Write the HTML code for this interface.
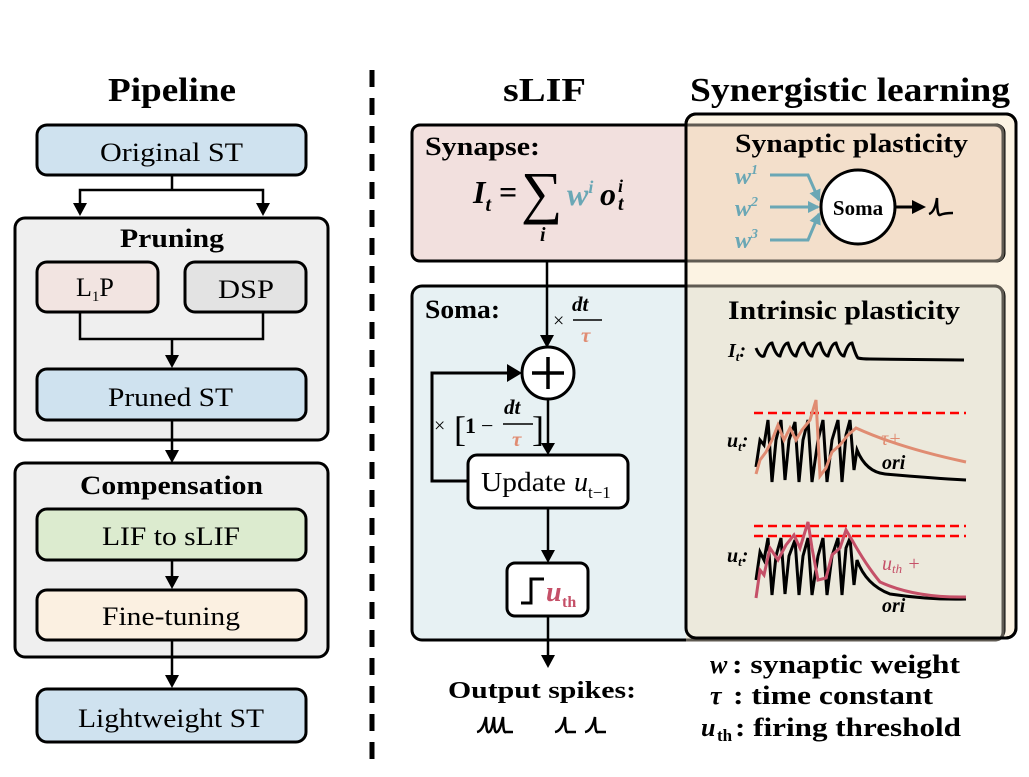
<!DOCTYPE html>
<html><head><meta charset="utf-8"><style>
body{margin:0;background:#fff}
svg{display:block}
text{font-family:"Liberation Serif",serif}
</style></head><body>
<svg width="1029" height="777" viewBox="0 0 1029 777" xmlns="http://www.w3.org/2000/svg">
<defs>
<marker id="ab" markerWidth="12" markerHeight="12" refX="10" refY="6" orient="auto" markerUnits="userSpaceOnUse"><path d="M0,0 L12,6 L0,12 z" fill="#6aa7b5"/></marker>
</defs>
<!-- Left pipeline -->
<text x="108" y="101" font-size="34" font-weight="bold" textLength="128" lengthAdjust="spacingAndGlyphs">Pipeline</text>
<rect x="37" y="125" width="269" height="50" rx="10" fill="#cfe2ef" stroke="#000" stroke-width="3"/>
<text x="100" y="161" font-size="26" textLength="143" lengthAdjust="spacingAndGlyphs">Original ST</text>
<path d="M172 175 V190 H80 V210 M172 190 H263 V210" fill="none" stroke="#000" stroke-width="2.5"/>
<path d="M73 203 L80 216 L87 203z M256 203 L263 216 L270 203z" fill="#000"/>
<rect x="15" y="218" width="313" height="222" rx="10" fill="#efefef" stroke="#000" stroke-width="3"/>
<text x="120" y="247" font-size="26" font-weight="bold" textLength="104" lengthAdjust="spacingAndGlyphs">Pruning</text>
<rect x="37" y="262" width="121" height="50" rx="10" fill="#f2e4e1" stroke="#000" stroke-width="3"/>
<text x="76" y="296" font-size="26">L<tspan font-size="15" dy="5">1</tspan><tspan dy="-5">P</tspan></text>
<rect x="185" y="262" width="121" height="50" rx="10" fill="#e3e3e3" stroke="#000" stroke-width="3"/>
<text x="218" y="298" font-size="26" textLength="56" lengthAdjust="spacingAndGlyphs">DSP</text>
<path d="M80 312 V339 H263 V312 M172 339 V360" fill="none" stroke="#000" stroke-width="2.5"/>
<path d="M165 355 L172 368 L179 355z" fill="#000"/>
<rect x="37" y="369" width="269" height="51" rx="10" fill="#cfe2ef" stroke="#000" stroke-width="3"/>
<text x="108" y="406" font-size="26" textLength="125" lengthAdjust="spacingAndGlyphs">Pruned ST</text>
<path d="M172 420 V455" stroke="#000" stroke-width="2.5"/>
<path d="M165 450 L172 463 L179 450z" fill="#000"/>
<rect x="15" y="463" width="313" height="194" rx="10" fill="#efefef" stroke="#000" stroke-width="3"/>
<text x="80" y="494" font-size="26" font-weight="bold" textLength="183" lengthAdjust="spacingAndGlyphs">Compensation</text>
<rect x="37" y="509" width="269" height="51" rx="10" fill="#dcebcf" stroke="#000" stroke-width="3"/>
<text x="102" y="545" font-size="26" textLength="138" lengthAdjust="spacingAndGlyphs">LIF to sLIF</text>
<path d="M172 560 V582" stroke="#000" stroke-width="2.5"/>
<path d="M165 576 L172 589 L179 576z" fill="#000"/>
<rect x="37" y="590" width="269" height="50" rx="10" fill="#fbf0e1" stroke="#000" stroke-width="3"/>
<text x="102" y="625" font-size="26" textLength="138" lengthAdjust="spacingAndGlyphs">Fine-tuning</text>
<path d="M172 640 V680" stroke="#000" stroke-width="2.5"/>
<path d="M165 675 L172 688 L179 675z" fill="#000"/>
<rect x="37" y="689" width="269" height="53" rx="10" fill="#cfe2ef" stroke="#000" stroke-width="3"/>
<text x="78" y="727" font-size="26" textLength="186" lengthAdjust="spacingAndGlyphs">Lightweight ST</text>
<line x1="372" y1="70" x2="372" y2="760" stroke="#000" stroke-width="5" stroke-dasharray="17,11"/>

<!-- Right titles -->
<text x="503" y="101" font-size="34" font-weight="bold" textLength="83" lengthAdjust="spacingAndGlyphs">sLIF</text>
<text x="690" y="101" font-size="34" font-weight="bold" textLength="320" lengthAdjust="spacingAndGlyphs">Synergistic learning</text>

<!-- Boxes -->
<rect x="686" y="114" width="330" height="524" rx="10" fill="#fcf3e3" stroke="#000" stroke-width="3"/>
<rect x="412" y="125" width="592" height="136" rx="8" fill="#f2e0de" stroke="#000" stroke-width="3"/>
<rect x="412" y="286" width="592" height="354" rx="10" fill="#e7f1f3" stroke="#000" stroke-width="3"/>
<rect x="686" y="126.5" width="316.5" height="133" fill="#f3dfcb"/>
<rect x="686" y="287.5" width="316.5" height="351" fill="#ece9dc"/>
<path d="M686 125 H994 Q1003 125 1003 134 V252 Q1003 261 994 261 H686" fill="none" stroke="#5f5a52" stroke-width="3"/>
<path d="M686 286 H994 Q1003 286 1003 296 V632 Q1003 640 994 640 H686" fill="none" stroke="#5f5a52" stroke-width="3"/>
<rect x="686" y="114" width="330" height="524" rx="10" fill="none" stroke="#000" stroke-width="3"/>

<!-- Synapse -->
<text x="425" y="155" font-size="26" font-weight="bold" textLength="115" lengthAdjust="spacingAndGlyphs">Synapse:</text>
<text x="473" y="203" font-size="32" font-weight="bold" font-style="italic">I<tspan font-size="20" dy="8">t</tspan><tspan dy="-8" font-style="normal"> =</tspan></text>
<text x="521" y="212" font-size="58">∑</text>
<text x="540" y="241" font-size="20" font-weight="bold" font-style="italic">i</text>
<text x="567" y="205" font-size="32" font-weight="bold" font-style="italic" fill="#6aa7b5">w<tspan font-size="18" dy="-12">i</tspan></text>
<text x="600" y="205" font-size="32" font-weight="bold" font-style="italic">o</text>
<text x="618" y="192" font-size="18" font-weight="bold" font-style="italic">i</text>
<text x="618" y="210" font-size="20" font-weight="bold" font-style="italic">t</text>

<!-- Synaptic plasticity -->
<text x="735" y="152" font-size="26" font-weight="bold" textLength="233" lengthAdjust="spacingAndGlyphs">Synaptic plasticity</text>
<g font-size="24" font-style="italic" fill="#6aa7b5" font-weight="bold">
<text x="735" y="184">w<tspan font-size="14" dy="-10">1</tspan></text>
<text x="735" y="216">w<tspan font-size="14" dy="-10">2</tspan></text>
<text x="735" y="248">w<tspan font-size="14" dy="-10">3</tspan></text>
</g>
<g fill="none" stroke="#6aa7b5" stroke-width="3">
<path d="M770 175 H808 L819 200" marker-end="url(#ab)"/>
<path d="M770 207 H818" marker-end="url(#ab)"/>
<path d="M770 240 H808 L819 214" marker-end="url(#ab)"/>
</g>
<circle cx="858" cy="207" r="37" fill="#fff" stroke="#000" stroke-width="3"/>
<text x="858" y="215" font-size="21" font-weight="bold" text-anchor="middle">Soma</text>
<path d="M895 207 H916" stroke="#000" stroke-width="3"/>
<path d="M912 200 L926 207 L912 214z" fill="#000"/>
<path d="M929 214 Q935 212 937 198 Q937 216 940 215 Q944 213 953 213" fill="none" stroke="#000" stroke-width="2.5"/>

<!-- Soma sLIF -->
<text x="425" y="318" font-size="26" font-weight="bold" textLength="75" lengthAdjust="spacingAndGlyphs">Soma:</text>
<path d="M547 262 V340" stroke="#000" stroke-width="2.5"/>
<path d="M540 335 L547 348 L554 335z" fill="#000"/>
<text x="553" y="327" font-size="20">×</text>
<text x="572" y="311" font-size="21" font-weight="bold" font-style="italic">dt</text>
<line x1="573" y1="320" x2="602" y2="320" stroke="#000" stroke-width="1.5"/>
<text x="581" y="342" font-size="21" font-weight="bold" font-style="italic" fill="#e08c72">τ</text>
<circle cx="548" cy="373" r="26" fill="#fff" stroke="#000" stroke-width="3"/>
<path d="M532 373 H564 M548 357 V389" stroke="#000" stroke-width="3.5"/>
<path d="M469 481 H432 V373 H512" fill="none" stroke="#000" stroke-width="3"/>
<path d="M507 364 L522 373 L507 382z" fill="#000"/>
<text x="434" y="432" font-size="20">×</text>
<text x="454" y="441" font-size="36">[</text>
<text x="465" y="433" font-size="22" font-weight="bold">1</text>
<text x="481" y="433" font-size="22">−</text>
<text x="504" y="414" font-size="21" font-weight="bold" font-style="italic">dt</text>
<line x1="503" y1="424" x2="533" y2="424" stroke="#000" stroke-width="1.5"/>
<text x="512" y="446" font-size="21" font-weight="bold" font-style="italic" fill="#e08c72">τ</text>
<text x="532" y="441" font-size="36">]</text>
<path d="M548 399 V447" stroke="#000" stroke-width="2.5"/>
<path d="M541 443 L548 455 L555 443z" fill="#000"/>
<rect x="468" y="455" width="160" height="53" rx="9" fill="#fff" stroke="#000" stroke-width="3"/>
<text x="481" y="491" font-size="27" textLength="85" lengthAdjust="spacingAndGlyphs">Update</text>
<text x="574" y="491" font-size="28" font-style="italic">u</text>
<text x="588" y="498" font-size="17">t−1</text>
<path d="M548 508 V555" stroke="#000" stroke-width="2.5"/>
<path d="M541 550 L548 563 L555 550z" fill="#000"/>
<rect x="507" y="563" width="81" height="53" rx="8" fill="#fff" stroke="#000" stroke-width="3"/>
<path d="M521 603 H531 V579 H544" fill="none" stroke="#000" stroke-width="3"/>
<text x="546" y="601" font-size="28" font-style="italic" fill="#c55068" font-weight="bold">u</text>
<text x="562" y="607" font-size="16" fill="#c55068" font-weight="bold">th</text>
<path d="M548 616 V658" stroke="#000" stroke-width="2.5"/>
<path d="M541 655 L548 668 L555 655z" fill="#000"/>
<text x="448" y="698" font-size="24" font-weight="bold" textLength="188" lengthAdjust="spacingAndGlyphs">Output spikes:</text>
<g fill="none" stroke="#000" stroke-width="2.5">
<path d="M477 732 Q483 731 486 717 Q486 734 489 732 Q492 731 494 717 Q494 734 497 732 Q500 731 503 717 Q503 734 506 732 L513 732"/>
<path d="M555 732 Q562 731 565 717 Q565 734 568 732 L576 732"/>
<path d="M585 732 Q592 731 595 717 Q595 734 598 732 L606 732"/>
</g>

<!-- Intrinsic plasticity -->
<text x="728" y="319" font-size="26" font-weight="bold" textLength="232" lengthAdjust="spacingAndGlyphs">Intrinsic plasticity</text>
<text x="728" y="357" font-size="20" font-style="italic" font-weight="bold">I<tspan font-size="13" dy="4">t</tspan><tspan dy="-4">:</tspan></text>
<path d="M756 348 Q760 358 764 356 Q768 343 772 343 Q776 356 780 356 Q784 343 788 343 Q792 356 796 356 Q800 343 804 343 Q808 356 812 356 Q816 343 820 343 Q824 356 828 356 Q832 343 836 343 Q840 356 844 356 Q848 343 852 343 Q856 356 858 358 Q862 359 870 359 L964 360" fill="none" stroke="#000" stroke-width="3"/>
<g font-size="20" font-style="italic" font-weight="bold">
<text x="727" y="447">u<tspan font-size="13" dy="4">t</tspan><tspan dy="-4">:</tspan></text>
<text x="727" y="562">u<tspan font-size="13" dy="4">t</tspan><tspan dy="-4">:</tspan></text>
</g>
<g stroke="#f00" stroke-width="2.5" stroke-dasharray="9,5">
<line x1="754" y1="413" x2="966" y2="413"/>
<line x1="754" y1="526" x2="966" y2="526"/>
<line x1="754" y1="536" x2="966" y2="536"/>
</g>
<path d="M756 467 L760 440 L764 445 L768 420 L772 482 L776 440 L781 420 L785 480 L789 440 L795 422 L799 482 L803 440 L808 420 L812 482 L818 440 L823 420 L827 482 L832 440 L838 420 L842 482 L846 435 L850 420 L854 470 L857 450 Q866 472 885 474 Q930 478 966 480" fill="none" stroke="#000" stroke-width="3"/>
<path d="M756 474 L760 460 L766 452 L772 440 L778 425 L784 440 L790 428 L796 440 L802 430 L810 420 L816 400 L820 476 L826 468 L832 452 L840 445 L848 435 L856 428 Q900 448 966 462" fill="none" stroke="#e08c72" stroke-width="3"/>
<text x="881" y="445" font-size="20" fill="#e08c72" font-style="italic">τ+</text>
<text x="882" y="469" font-size="20" font-weight="bold" font-style="italic">ori</text>
<path d="M756 580 L760 552 L764 560 L768 538 L772 595 L776 556 L781 538 L785 594 L789 556 L795 540 L799 595 L803 556 L808 538 L812 595 L818 556 L823 538 L827 595 L832 556 L838 538 L842 595 L846 548 L850 538 L854 585 L857 560 Q866 585 890 594 Q930 600 966 599" fill="none" stroke="#000" stroke-width="3"/>
<path d="M756 598 L760 570 L764 575 L770 548 L778 560 L786 545 L794 535 L800 548 L808 522 L812 548 L818 580 L826 578 L832 555 L840 548 L846 530 L852 540 Q866 565 880 582 Q915 598 966 597" fill="none" stroke="#c55068" stroke-width="3"/>
<text x="882" y="570" font-size="20" fill="#c55068" font-style="italic">u<tspan font-size="13" dy="3">th</tspan><tspan dy="-3"> +</tspan></text>
<text x="882" y="612" font-size="20" font-weight="bold" font-style="italic">ori</text>

<!-- Legend -->
<g font-size="26" font-weight="bold">
<text x="710" y="673" font-style="italic">w</text>
<text x="732" y="673" textLength="228" lengthAdjust="spacingAndGlyphs">: synaptic weight</text>
<text x="710" y="704" font-style="italic">τ</text>
<text x="733" y="704" textLength="200" lengthAdjust="spacingAndGlyphs">: time constant</text>
<text x="701" y="736" font-style="italic">u</text>
<text x="717" y="741" font-size="17">th</text>
<text x="735" y="736" textLength="226" lengthAdjust="spacingAndGlyphs">: firing threshold</text>
</g>
</svg>
</body></html>
